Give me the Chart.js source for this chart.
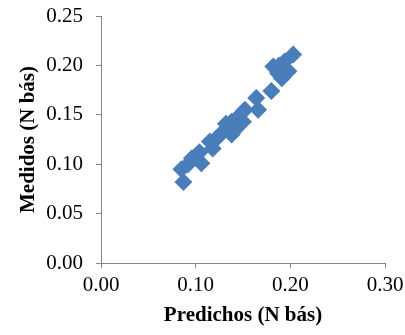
<!DOCTYPE html>
<html>
<head>
<meta charset="utf-8">
<script src="https://cdn.jsdelivr.net/npm/chart.js@4/dist/chart.umd.min.js"></script>
<style>
  html, body { margin: 0; padding: 0; background: #fff; }
  #wrap { width: 405px; height: 335px; }
</style>
</head>
<body>
<div id="wrap"><canvas id="scatterChart" width="405" height="335"></canvas></div>
<script>
const predichos = [0.087, 0.085, 0.092, 0.096, 0.100, 0.106, 0.104, 0.115, 0.118, 0.122,
                   0.127, 0.132, 0.138, 0.141, 0.138, 0.145, 0.150, 0.152, 0.164, 0.166,
                   0.180, 0.182, 0.188, 0.187, 0.191, 0.194, 0.198, 0.203];
const medidos   = [0.082, 0.095, 0.100, 0.106, 0.108, 0.101, 0.112, 0.123, 0.116, 0.126,
                   0.131, 0.141, 0.130, 0.134, 0.143, 0.148, 0.143, 0.155, 0.167, 0.155,
                   0.174, 0.199, 0.200, 0.192, 0.187, 0.204, 0.194, 0.211];

const xTicks = [0, 0.1, 0.2, 0.3];
const yTicks = [0, 0.05, 0.1, 0.15, 0.2, 0.25];

const axisColor = '#868686';
const serif = "'Liberation Serif', 'Times New Roman', serif";

function drawScatter() {
    const ctx = document.getElementById('scatterChart').getContext('2d');
    const points = predichos.map((x, i) => ({ x: x, y: medidos[i] }));

    new Chart(ctx, {
        type: 'scatter',
        data: {
            datasets: [{
                data: points,
                pointStyle: 'rectRot',
                pointRadius: 9,
                backgroundColor: '#4a7ebb',
                borderColor: '#4a7ebb',
                borderWidth: 0
            }]
        },
        options: {
            responsive: false,
            animation: false,
            layout: { padding: { top: 16, right: 20, bottom: 0, left: 0 } },
            plugins: {
                legend: { display: false },
                tooltip: { enabled: false }
            },
            scales: {
                x: {
                    type: 'linear',
                    min: xTicks[0],
                    max: xTicks[xTicks.length - 1],
                    afterBuildTicks: s => { s.ticks = xTicks.map(v => ({ value: v })); },
                    afterFit: s => { s.height = 72; s.paddingLeft = 0; s.paddingRight = 0; },
                    grid: { drawOnChartArea: false, drawTicks: true, tickLength: 5, color: axisColor },
                    border: { display: true, color: axisColor, width: 1 },
                    ticks: {
                        color: '#000',
                        padding: 5,
                        font: { family: serif, size: 21 },
                        callback: v => v.toFixed(2)
                    },
                    title: {
                        display: true,
                        text: 'Predichos (N bás)',
                        color: '#000',
                        font: { family: serif, size: 21, weight: 'bold' },
                        padding: { top: 0, bottom: 7 }
                    }
                },
                y: {
                    type: 'linear',
                    min: yTicks[0],
                    max: yTicks[yTicks.length - 1],
                    afterBuildTicks: s => { s.ticks = yTicks.map(v => ({ value: v })); },
                    afterFit: s => { s.width = 101; s.paddingTop = 0; s.paddingBottom = 0; },
                    grid: { drawOnChartArea: false, drawTicks: true, tickLength: 5, color: axisColor },
                    border: { display: true, color: axisColor, width: 1 },
                    ticks: {
                        color: '#000',
                        padding: 13,
                        font: { family: serif, size: 21 },
                        callback: v => v.toFixed(2)
                    },
                    title: {
                        display: true,
                        text: 'Medidos (N bás)',
                        color: '#000',
                        font: { family: serif, size: 21, weight: 'bold' },
                        padding: { top: 16, bottom: 0 }
                    }
                }
            }
        }
    });
}

document.addEventListener('DOMContentLoaded', drawScatter);
</script>
</body>
</html>
